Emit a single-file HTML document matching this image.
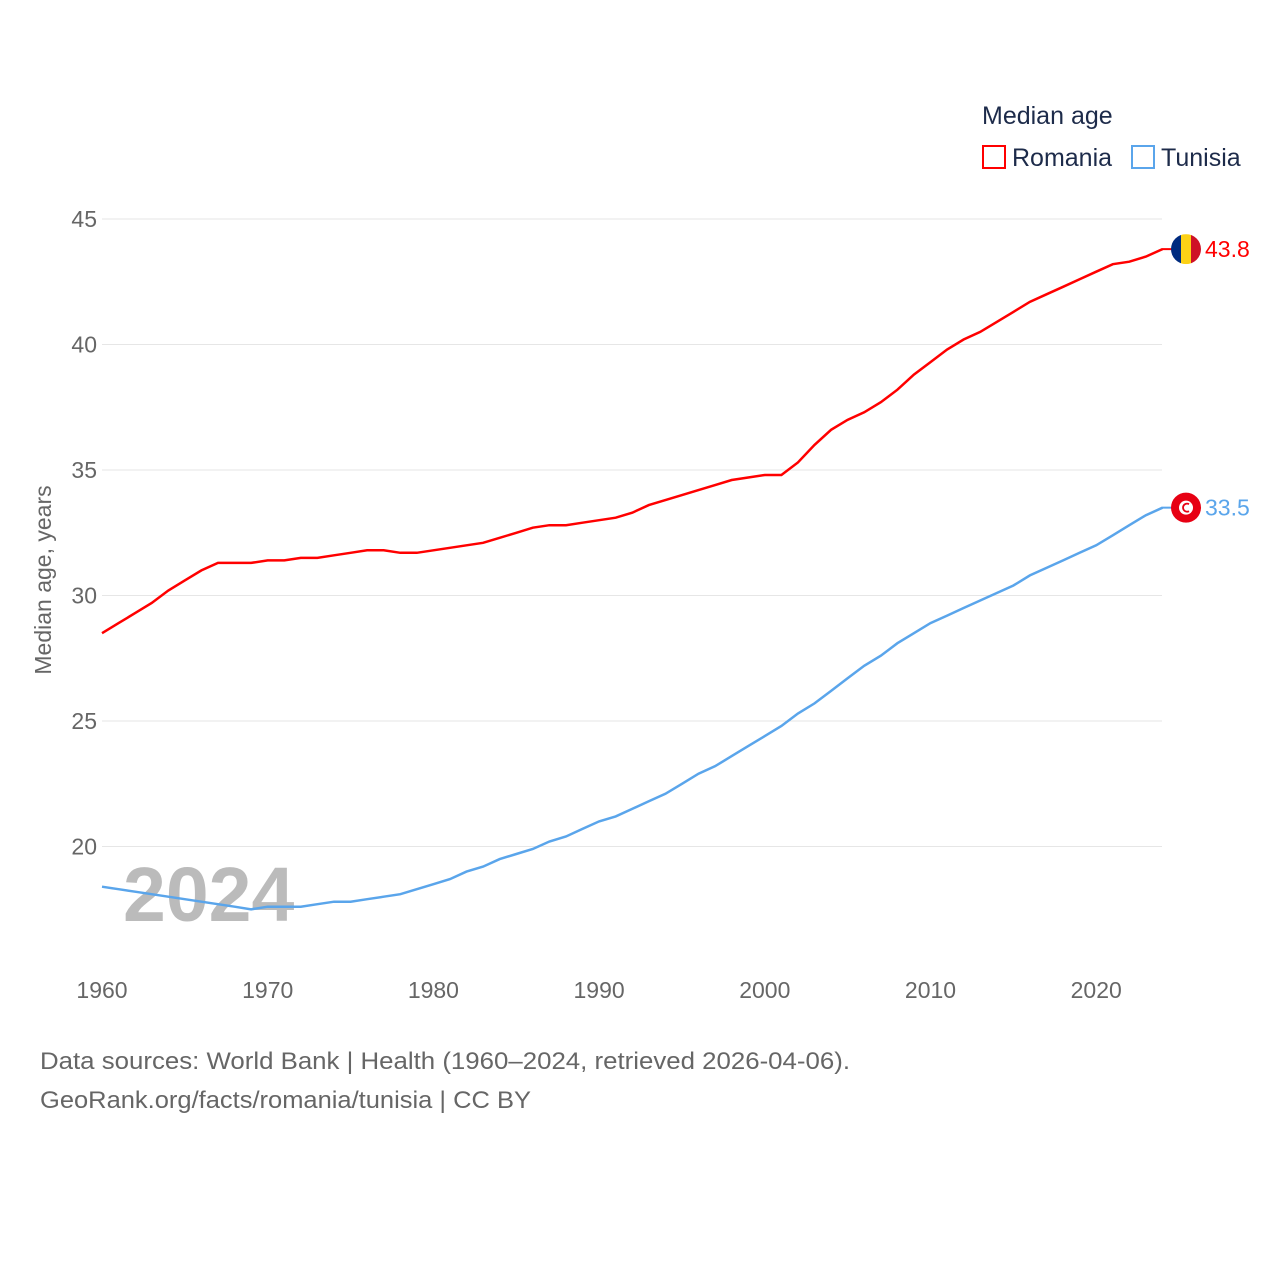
<!DOCTYPE html>
<html><head><meta charset="utf-8"><style>
body{margin:0;background:#fff;font-family:"Liberation Sans",sans-serif}
svg{display:block}
text{font-family:"Liberation Sans",sans-serif}
</style></head><body>
<svg id="chart" width="1280" height="1280">
<text x="982" y="124" font-size="25" fill="#1d2b4a">Median age</text>
<g><rect x="983" y="146" width="22" height="22" fill="none" stroke="#ff0000" stroke-width="2"/><text x="1012" y="166" font-size="25" fill="#1d2b4a">Romania</text></g>
<g><rect x="1132" y="146" width="22" height="22" fill="none" stroke="#5aa5eb" stroke-width="2"/><text x="1161" y="166" font-size="25" fill="#1d2b4a">Tunisia</text></g>
<text transform="translate(51,580) rotate(-90)" text-anchor="middle" font-size="23" fill="#666">Median age, years</text>
<text x="123" y="921" font-size="77" font-weight="bold" fill="#bbb">2024</text>
<g id="grid"></g><g id="lines"></g>
<text x="40" y="1069" font-size="24" fill="#666" textLength="810" lengthAdjust="spacingAndGlyphs">Data sources: World Bank | Health (1960–2024, retrieved 2026-04-06).</text>
<text x="40" y="1108" font-size="24" fill="#666" textLength="491" lengthAdjust="spacingAndGlyphs">GeoRank.org/facts/romania/tunisia | CC BY</text>
</svg>
<script>
const years=[];for(let y=1960;y<=2024;y++)years.push(y);
const romania=[28.5,28.9,29.3,29.7,30.2,30.6,31.0,31.3,31.3,31.3,31.4,31.4,31.5,31.5,31.6,31.7,31.8,31.8,31.7,31.7,31.8,31.9,32.0,32.1,32.3,32.5,32.7,32.8,32.8,32.9,33.0,33.1,33.3,33.6,33.8,34.0,34.2,34.4,34.6,34.7,34.8,34.8,35.3,36.0,36.6,37.0,37.3,37.7,38.2,38.8,39.3,39.8,40.2,40.5,40.9,41.3,41.7,42.0,42.3,42.6,42.9,43.2,43.3,43.5,43.8];
const tunisia=[18.4,18.3,18.2,18.1,18.0,17.9,17.8,17.7,17.6,17.5,17.6,17.6,17.6,17.7,17.8,17.8,17.9,18.0,18.1,18.3,18.5,18.7,19.0,19.2,19.5,19.7,19.9,20.2,20.4,20.7,21.0,21.2,21.5,21.8,22.1,22.5,22.9,23.2,23.6,24.0,24.4,24.8,25.3,25.7,26.2,26.7,27.2,27.6,28.1,28.5,28.9,29.2,29.5,29.8,30.1,30.4,30.8,31.1,31.4,31.7,32.0,32.4,32.8,33.2,33.5];
const yTicks=[20,25,30,35,40,45];
const xTicks=[1960,1970,1980,1990,2000,2010,2020];
const ns="http://www.w3.org/2000/svg";
const X=y=>102+(y-1960)*16.57, Y=v=>219+(45-v)*25.1;
function mk(t,a,p){const e=document.createElementNS(ns,t);for(const k in a)e.setAttribute(k,a[k]);p.appendChild(e);return e;}
const g=document.getElementById('grid'),L=document.getElementById('lines');
yTicks.forEach(v=>{
 const l=mk('line',{x1:102,x2:1162,y1:Y(v),y2:Y(v),stroke:'#e6e6e6','stroke-width':1},g);
 
 
 const t=mk('text',{x:97,y:Y(v)+8,'text-anchor':'end','font-size':23,fill:'#666'},g);t.textContent=v;
 
 
});
xTicks.forEach(v=>{
 const t=mk('text',{x:X(v),y:998,'text-anchor':'middle','font-size':23,fill:'#666'},g);t.textContent=v;
 
 
});
function series(d,c,n){
 const p=mk('path',{d:d.map((v,i)=>(i?'L':'M')+X(years[i]).toFixed(1)+','+Y(v).toFixed(1)).join(''),fill:'none',stroke:c,'stroke-width':2.5},L);
 
 
 const last=d[d.length-1],ly=Y(last);
 mk('line',{x1:1162,x2:1176,y1:ly,y2:ly,stroke:c,'stroke-width':2},L);
 const t=mk('text',{x:1205,y:ly+8,'font-size':23,fill:c},L);t.textContent=last.toFixed(1);
 
 
 return ly;
}
const ry=series(romania,'#ff0000','romania');
const ty=series(tunisia,'#5aa5eb','tunisia');
const f1=document.createElementNS(ns,'g');L.appendChild(f1);


mk('clipPath',{id:'c1'},f1);mk('circle',{cx:1186,cy:ry,r:15},f1.firstChild);
mk('rect',{x:1171,y:ry-15,width:10,height:30,fill:'#002b7f','clip-path':'url(#c1)'},f1);
mk('rect',{x:1181,y:ry-15,width:10,height:30,fill:'#fcd116','clip-path':'url(#c1)'},f1);
mk('rect',{x:1191,y:ry-15,width:10,height:30,fill:'#ce1126','clip-path':'url(#c1)'},f1);
const f2=document.createElementNS(ns,'g');L.appendChild(f2);


mk('circle',{cx:1186,cy:ty,r:15,fill:'#e70013'},f2);
mk('circle',{cx:1186,cy:ty,r:7,fill:'#fff'},f2);
mk('path',{d:`M${1189},${ty-3.5}A4,4 0 1 0 ${1189},${ty+3.5}`,fill:'none',stroke:'#e70013','stroke-width':1.8},f2);
</script>
</body></html>
